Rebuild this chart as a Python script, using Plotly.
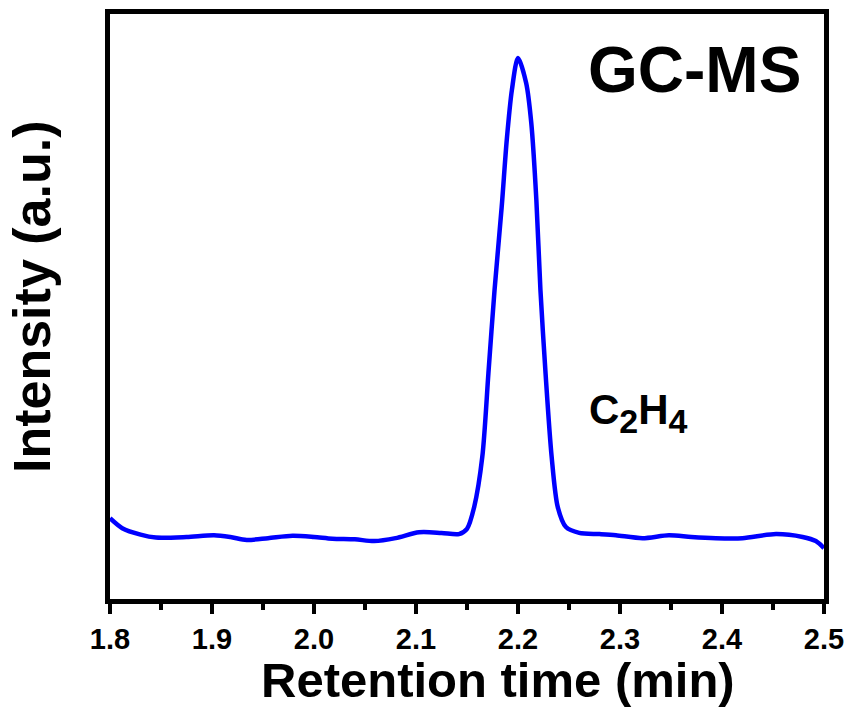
import plotly.graph_objects as go

# Retention time (min) and intensity (a.u.)
time_min = [1.800, 1.812, 1.830, 1.845, 1.875, 1.902, 1.918, 1.934, 1.955, 1.979,
            2.000, 2.018, 2.040, 2.059, 2.080, 2.103, 2.125, 2.142, 2.150, 2.157,
            2.165, 2.171, 2.177, 2.184, 2.189, 2.194, 2.200, 2.208, 2.213, 2.218,
            2.222, 2.227, 2.233, 2.239, 2.247, 2.260, 2.280, 2.296, 2.322, 2.348,
            2.370, 2.394, 2.420, 2.453, 2.479, 2.492, 2.500]
intensity = [13.8, 12.1, 11.0, 10.5, 10.6, 10.9, 10.6, 10.1, 10.4, 10.8,
             10.6, 10.3, 10.2, 9.9, 10.4, 11.4, 11.3, 11.1, 12.0, 15.7,
             24.3, 38.6, 52.8, 67.0, 78.5, 87.0, 92.5, 88.2, 81.4, 68.2,
             52.8, 38.6, 24.3, 15.7, 12.3, 11.3, 11.1, 10.9, 10.4, 10.9,
             10.6, 10.4, 10.4, 11.1, 10.6, 9.9, 8.7]

x_ticks = [1.8, 1.9, 2.0, 2.1, 2.2, 2.3, 2.4, 2.5]
x_tick_labels = ["1.8", "1.9", "2.0", "2.1", "2.2", "2.3", "2.4", "2.5"]

FONT = "Liberation Sans, Arial, sans-serif"

fig = go.Figure()
fig.add_trace(go.Scatter(
    x=time_min, y=intensity, mode="lines",
    line=dict(color="#0000FF", width=4.5, shape="spline", smoothing=0.8),
    showlegend=False, hoverinfo="skip",
))

fig.update_layout(
    width=850, height=710,
    margin=dict(l=110, r=26, t=14, b=111, autoexpand=False),
    paper_bgcolor="white", plot_bgcolor="white",
    font=dict(family=FONT, color="black"),
    xaxis=dict(
        range=[1.8, 2.5], tickvals=x_ticks, ticktext=x_tick_labels,
        ticks="outside", ticklen=10, tickwidth=3.5, tickcolor="black",
        showline=True, linewidth=4.5, linecolor="black", mirror=True,
        showgrid=False, zeroline=False, automargin=False,
        tickfont=dict(family=FONT, size=29, weight="bold", color="black"),
        minor=dict(dtick=0.05, ticks="outside", ticklen=6, tickwidth=3.5,
                   tickcolor="black", showgrid=False),
    ),
    yaxis=dict(
        range=[0, 100], showticklabels=False, ticks="",
        showline=True, linewidth=4.5, linecolor="black", mirror=True,
        showgrid=False, zeroline=False, automargin=False,
    ),
    annotations=[
        dict(text="Retention time (min)", xref="paper", yref="paper",
             x=0.543, y=-0.138, xanchor="center", yanchor="middle",
             showarrow=False,
             font=dict(family=FONT, size=49, weight="bold", color="black")),
        dict(text="Intensity (a.u.)", xref="paper", yref="paper",
             x=-0.11, y=0.517, xanchor="center", yanchor="middle",
             textangle=-90, showarrow=False,
             font=dict(family=FONT, size=52, weight="bold", color="black")),
        dict(text="GC-MS", xref="paper", yref="paper",
             x=0.818, y=0.904, xanchor="center", yanchor="middle",
             showarrow=False,
             font=dict(family=FONT, size=64, weight="bold", color="black")),
        dict(text="C<sub><span style='font-size:34px'>2</span></sub>H"
                  "<sub><span style='font-size:34px'>4</span></sub>",
             xref="paper", yref="paper",
             x=0.668, y=0.318, xanchor="left", yanchor="middle",
             showarrow=False,
             font=dict(family=FONT, size=42, weight="bold", color="black")),
    ],
)

fig.write_html("out.html")
